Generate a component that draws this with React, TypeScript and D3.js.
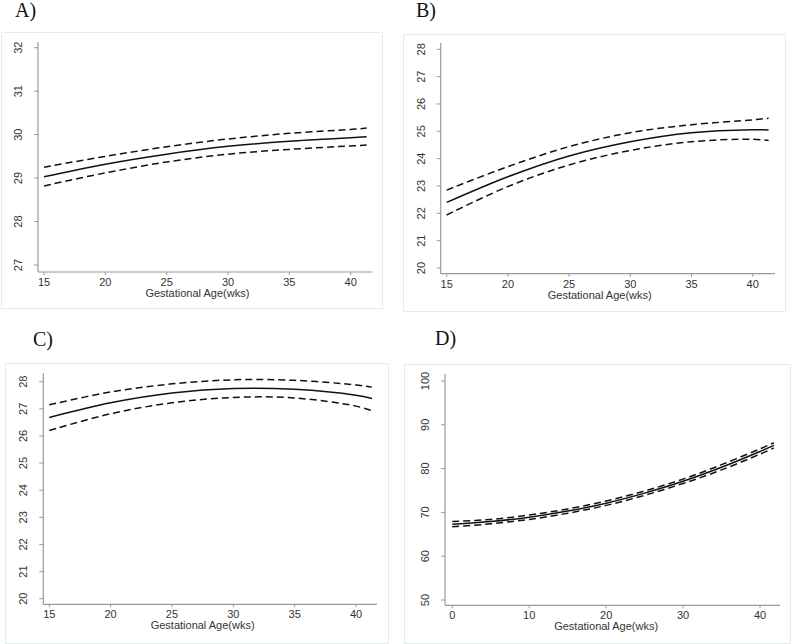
import React from "react";
import * as d3 from "d3";

// ---------- data ----------
const weeksABC = [15, 20, 25, 30, 35, 40, 41.3];
const aFit = [29.03, 29.32, 29.55, 29.73, 29.85, 29.93, 29.95];
const aUpper = [29.25, 29.5, 29.72, 29.9, 30.03, 30.12, 30.15];
const aLower = [28.82, 29.12, 29.37, 29.55, 29.66, 29.74, 29.76];

const bFit = [22.4, 23.34, 24.1, 24.62, 24.95, 25.06, 25.05];
const bUpper = [22.85, 23.71, 24.44, 24.95, 25.24, 25.42, 25.48];
const bLower = [21.94, 22.98, 23.77, 24.3, 24.62, 24.71, 24.66];

const cFit = [26.68, 27.22, 27.58, 27.75, 27.72, 27.5, 27.38];
const cUpper = [27.15, 27.62, 27.92, 28.07, 28.05, 27.88, 27.8];
const cLower = [26.2, 26.82, 27.22, 27.42, 27.4, 27.1, 26.93];

const weeksD = [0, 5, 10, 15, 20, 25, 30, 35, 40, 41.8];
const dFit = [67.3, 67.9, 68.9, 70.3, 72.1, 74.4, 77.1, 80.3, 83.9, 85.3];
const dUpper = [67.9, 68.4, 69.4, 70.8, 72.6, 74.9, 77.6, 80.9, 84.5, 85.9];
const dLower = [66.7, 67.4, 68.4, 69.8, 71.6, 73.9, 76.6, 79.7, 83.3, 84.7];

const xTicksABC = [15, 20, 25, 30, 35, 40];
const xTicksD = [0, 10, 20, 30, 40];
const yTicksA = [27, 28, 29, 30, 31, 32];
const yTicksBC = [20, 21, 22, 23, 24, 25, 26, 27, 28];
const yTicksD = [50, 60, 70, 80, 90, 100];

const panelLabels = ["A)", "B)", "C)", "D)"];
const xTitle = "Gestational Age(wks)";

// ---------- layout ----------
type Panel = {
  label: string;
  labelPos: [number, number];
  frame: [number, number, number, number];
  axisX: number;
  axisY: number;
  xDom: [number, number];
  xRange: [number, number];
  xEnd: number;
  yDom: [number, number];
  yRange: [number, number];
  yTop: number;
  xTicks: number[];
  yTicks: number[];
  weeks: number[];
  fit: number[];
  upper: number[];
  lower: number[];
};

const panels: Panel[] = [
  {
    label: panelLabels[0], labelPos: [15, 17], frame: [1, 32, 382, 308],
    axisX: 38, axisY: 272, xDom: [15, 40], xRange: [44, 350.7], xEnd: 372.7,
    yDom: [27, 32], yRange: [265, 47.7], yTop: 42,
    xTicks: xTicksABC, yTicks: yTicksA, weeks: weeksABC, fit: aFit, upper: aUpper, lower: aLower,
  },
  {
    label: panelLabels[1], labelPos: [416, 17], frame: [403, 34, 785, 311],
    axisX: 440.7, axisY: 273.7, xDom: [15, 40], xRange: [446.7, 752.7], xEnd: 775,
    yDom: [20, 28], yRange: [268, 49.3], yTop: 43,
    xTicks: xTicksABC, yTicks: yTicksBC, weeks: weeksABC, fit: bFit, upper: bUpper, lower: bLower,
  },
  {
    label: panelLabels[2], labelPos: [33, 346], frame: [5, 363, 388, 643],
    axisX: 43.3, axisY: 604.3, xDom: [15, 40], xRange: [49.3, 356], xEnd: 377,
    yDom: [20, 28], yRange: [598.7, 381.7], yTop: 373,
    xTicks: xTicksABC, yTicks: yTicksBC, weeks: weeksABC, fit: cFit, upper: cUpper, lower: cLower,
  },
  {
    label: panelLabels[3], labelPos: [435, 345], frame: [404, 364, 790, 643],
    axisX: 445, axisY: 605.3, xDom: [0, 40], xRange: [452.3, 760], xEnd: 780,
    yDom: [50, 100], yRange: [600, 381], yTop: 374,
    xTicks: xTicksD, yTicks: yTicksD, weeks: weeksD, fit: dFit, upper: dUpper, lower: dLower,
  },
];

const axisColor = "#9a9a9a";
const textColor = "#333";
const sans = "'Liberation Sans', Arial, sans-serif";

function PanelView({ p }: { p: Panel }) {
  const x = d3.scaleLinear().domain(p.xDom).range(p.xRange);
  const y = d3.scaleLinear().domain(p.yDom).range(p.yRange);
  const mk = (vals: number[]) =>
    d3
      .line<number>()
      .x((_, i) => x(p.weeks[i]))
      .y((v) => y(v))
      .curve(d3.curveCatmullRom.alpha(0.5))(vals) || "";
  const [fx0, fy0, fx1, fy1] = p.frame;
  return (
    <g>
      <text x={p.labelPos[0]} y={p.labelPos[1]} fontFamily="'Liberation Serif', 'Times New Roman', serif" fontSize={20} fill="#111">
        {p.label}
      </text>
      <rect x={fx0 + 0.5} y={fy0 + 0.5} width={fx1 - fx0} height={fy1 - fy0} fill="#fff" stroke="#e4ecee" strokeWidth={1} />
      <line x1={p.axisX} x2={p.axisX} y1={p.yTop} y2={p.axisY} stroke={axisColor} strokeWidth={1.2} />
      <line x1={p.axisX} x2={p.xEnd} y1={p.axisY} y2={p.axisY} stroke={axisColor} strokeWidth={1.2} />
      {p.yTicks.map((t) => (
        <g key={"y" + t}>
          <line x1={p.axisX - 4} x2={p.axisX} y1={y(t)} y2={y(t)} stroke={axisColor} strokeWidth={1} />
          <text
            transform={`translate(${p.axisX - 16},${y(t)}) rotate(-90)`}
            textAnchor="middle"
            fontFamily={sans}
            fontSize={11}
            fill={textColor}
          >
            {t}
          </text>
        </g>
      ))}
      {p.xTicks.map((t) => (
        <g key={"x" + t}>
          <line x1={x(t)} x2={x(t)} y1={p.axisY} y2={p.axisY + 3} stroke={axisColor} strokeWidth={1} />
          <text x={x(t)} y={p.axisY + 14} textAnchor="middle" fontFamily={sans} fontSize={11} fill={textColor}>
            {t}
          </text>
        </g>
      ))}
      <text
        x={(p.xRange[0] + p.xRange[1]) / 2}
        y={p.axisY + 25}
        textAnchor="middle"
        fontFamily={sans}
        fontSize={11}
        fill={textColor}
      >
        {xTitle}
      </text>
      <path d={mk(p.upper)} fill="none" stroke="#111" strokeWidth={1.5} strokeDasharray="7,4" />
      <path d={mk(p.lower)} fill="none" stroke="#111" strokeWidth={1.5} strokeDasharray="7,4" />
      <path d={mk(p.fit)} fill="none" stroke="#111" strokeWidth={1.5} />
    </g>
  );
}

export default function App() {
  return (
    <svg width={800} height={644} style={{ position: "absolute", left: 0, top: 0, background: "#fff" }}>
      <rect width={800} height={644} fill="#fff" />
      {panels.map((p) => (
        <PanelView key={p.label} p={p} />
      ))}
    </svg>
  );
}
